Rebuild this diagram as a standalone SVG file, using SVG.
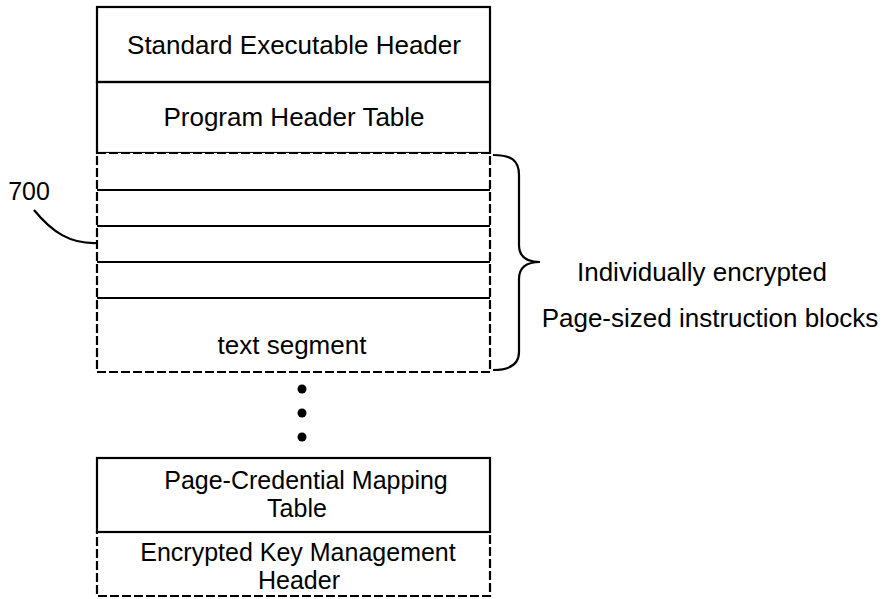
<svg xmlns="http://www.w3.org/2000/svg" width="888" height="599" viewBox="0 0 888 599">
<style>
.s{fill:none;stroke:#000;stroke-width:2.2}
.d{fill:none;stroke:#000;stroke-width:2.2;stroke-dasharray:9,3}
text{font-family:"Liberation Sans",Arial,sans-serif;font-size:26px;fill:#000;text-anchor:middle}
.t2{font-size:25px}
</style>
<rect width="888" height="599" fill="#fff"/>
<g id="std-header">
<rect class="s" x="97" y="7" width="393" height="75"/>
<text x="294" y="54">Standard Executable Header</text>
</g>
<g id="prog-header">
<rect class="s" x="97" y="82" width="393" height="71"/>
<text x="294" y="126">Program Header Table</text>
</g>
<g id="text-segment">
<rect fill="#fff" x="97" y="153" width="393" height="219"/>
<line class="s" x1="97" y1="190" x2="490" y2="190"/>
<line class="s" x1="97" y1="226" x2="490" y2="226"/>
<line class="s" x1="97" y1="262" x2="490" y2="262"/>
<line class="s" x1="97" y1="298" x2="490" y2="298"/>
<rect class="d" x="97" y="153" width="393" height="219"/>
<text x="292" y="354">text segment</text>
</g>
<g id="dots">
<circle cx="302" cy="389" r="4.5"/>
<circle cx="302" cy="413" r="4.5"/>
<circle cx="302" cy="437" r="4.5"/>
</g>
<g id="mapping-table">
<rect class="s" x="97" y="458" width="393" height="74"/>
<text class="t2" x="306" y="489">Page-Credential Mapping</text>
<text class="t2" x="297" y="517">Table</text>
</g>
<g id="key-header">
<rect class="d" x="97" y="532" width="393" height="64"/>
<text class="t2" x="298" y="561">Encrypted Key Management</text>
<text class="t2" x="299" y="589">Header</text>
</g>
<g id="connectors">
<path class="s" d="M34,210 C52,232 70,244 97,243"/>
<path class="s" d="M493,155 C511,155 519,160 519,175 L519,245 C519,256 526,262 540,262 C526,262 519,268 519,279 L519,352 C519,364 511,370 493,370"/>
</g>
<g id="labels">
<text x="29" y="200" style="font-size:25px">700</text>
<text x="702" y="281">Individually encrypted</text>
<text x="710" y="327">Page-sized instruction blocks</text>
</g>
</svg>
